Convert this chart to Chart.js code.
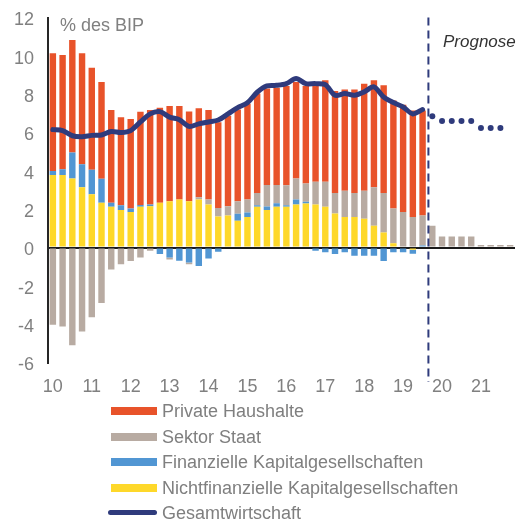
<!DOCTYPE html>
<html>
<head>
<meta charset="utf-8">
<script src="https://cdn.jsdelivr.net/npm/chart.js@4.4.1/dist/chart.umd.min.js"></script>
<style>
  body { margin: 0; background: #fff; }
  #wrap { position: relative; width: 519px; height: 524px; font-family: 'Liberation Sans', Arial, sans-serif; }
  canvas { position: absolute; left: 0; top: 0; }
  .note { position: absolute; white-space: nowrap; }
  .lg { position: absolute; left: 111px; height: 18px; font-size: 18px; line-height: 18px; color: #7f7f7f; white-space: nowrap; }
  .lg i { position: absolute; left: 0; top: 5px; width: 46px; height: 8px; }
  .lg i.ln { left: -3px; top: 6px; width: 49px; height: 5px; border-radius: 3px; }
  .lg span { position: absolute; left: 51px; top: 0; }
</style>
</head>
<body>
<div id="wrap">
  <canvas id="chart" width="519" height="524"></canvas>
  <div class="note" style="left:60px;top:16px;font-size:18px;line-height:18px;color:#808080">% des BIP</div>
  <div class="note" style="left:443px;top:33px;font-size:17px;line-height:17px;color:#333;font-style:italic">Prognose</div>
  <div id="legend"></div>
</div>
<script>
// quarters 2010 Q1 .. 2021 Q4
const years = ['10', '11', '12', '13', '14', '15', '16', '17', '18', '19', '20', '21'];
const quarters = years.flatMap(y => ['Q1', 'Q2', 'Q3', 'Q4'].map(q => y + ' ' + q));

const nonFinCorp = [3.78, 3.78, 3.6, 3.15, 2.78, 2.33, 2.12, 1.96, 1.85, 2.13,
  2.15, 2.33, 2.41, 2.5, 2.41, 2.5, 2.24, 1.62, 1.67, 1.39,
  1.59, 2.13, 1.96, 2.13, 2.13, 2.24, 2.3, 2.24, 2.13, 1.78,
  1.59, 1.59, 1.5, 1.13, 0.78, 0.22, 0, -0.12, 0,
  null, null, null, null, null, null, null, null, null];

const finCorp = [0.21, 0.3, 1.36, 1.2, 1.28, 1.26, 0.21, 0.24, 0.18, 0.09,
  0.09, -0.34, -0.52, -0.69, -0.78, -0.97, -0.57, -0.22, 0, 0.37,
  0.24, 0.07, 0.18, 0.18, 0.07, 0.26, 0.09, -0.17, -0.25, -0.34,
  -0.25, -0.43, -0.43, -0.43, -0.71, -0.25, -0.25, -0.2, 0.1,
  null, null, null, null, null, null, null, null, null];

const government = [-4.03, -4.12, -5.1, -4.38, -3.64, -2.9, -1.15, -0.88, -0.7, -0.52,
  -0.17, 0, -0.1, 0, -0.1, 0.12, 0.26, 0.44, 0.48, 0.65,
  0.67, 0.65, 1.12, 0.95, 1.05, 1.1, 0.95, 1.19, 1.3, 1.07,
  1.37, 1.26, 1.46, 2.02, 2.07, 1.81, 1.85, 1.59, 1.57,
  1.13, 0.57, 0.57, 0.57, 0.57, 0.13, 0.13, 0.13, 0.13];

const households = [6.14, 5.96, 5.87, 5.78, 5.32, 5.05, 4.85, 4.6, 4.68, 4.86,
  4.94, 4.96, 4.97, 4.88, 4.68, 4.65, 4.68, 4.48, 4.73, 4.79,
  5.0, 5.18, 5.04, 5.08, 5.18, 5.04, 5.09, 5.0, 5.3, 5.32,
  5.29, 5.4, 5.59, 5.58, 5.61, 5.64, 5.6, 5.56, 5.48,
  null, null, null, null, null, null, null, null, null];

const total = [6.15, 6.1, 5.83, 5.78, 5.85, 5.87, 6.05, 6.0, 6.1, 6.55,
  6.97, 7.09, 6.8, 6.67, 6.32, 6.45, 6.55, 6.65, 6.97, 7.3,
  7.55, 8.1, 8.43, 8.46, 8.55, 8.82, 8.55, 8.55, 8.5, 7.94,
  8.03, 7.94, 8.12, 8.38, 7.85, 7.56, 7.33, 6.97, 7.2,
  null, null, null, null, null, null, null, null, null];

const totalForecast = [null, null, null, null, null, null, null, null, null, null,
  null, null, null, null, null, null, null, null, null, null,
  null, null, null, null, null, null, null, null, null, null,
  null, null, null, null, null, null, null, null, null,
  6.85, 6.6, 6.6, 6.6, 6.6, 6.24, 6.24, 6.24, null];

const colors = {
  households: '#e8532a',
  government: '#b8aba2',
  finCorp: '#5196d3',
  nonFinCorp: '#fed82a',
  total: '#2f3b7c'
};

// legend (html)
const legendItems = [
  ['Private Haushalte', colors.households, false],
  ['Sektor Staat', colors.government, false],
  ['Finanzielle Kapitalgesellschaften', colors.finCorp, false],
  ['Nichtfinanzielle Kapitalgesellschaften', colors.nonFinCorp, false],
  ['Gesamtwirtschaft', colors.total, true]
];
const legendEl = document.getElementById('legend');
legendItems.forEach((it, i) => {
  const row = document.createElement('div');
  row.className = 'lg';
  row.style.top = (402 + i * 25.5) + 'px';
  row.innerHTML = '<i class="' + (it[2] ? 'ln' : '') + '" style="background:' + it[1] + '"></i><span>' + it[0] + '</span>';
  legendEl.appendChild(row);
});

// dashed forecast separator
const forecastLine = {
  id: 'forecastLine',
  afterDatasetsDraw(chart) {
    const x = chart.scales.x.getPixelForValue(38.6);
    const ctx = chart.ctx;
    ctx.save();
    ctx.strokeStyle = colors.total;
    ctx.lineWidth = 2;
    ctx.setLineDash([8, 5]);
    ctx.beginPath();
    ctx.moveTo(x, chart.chartArea.top);
    ctx.lineTo(x, 382);
    ctx.stroke();
    ctx.restore();
  }
};

Chart.defaults.font.family = "'Liberation Sans', Arial, sans-serif";
Chart.defaults.font.size = 18;
Chart.defaults.color = '#808080';

const bar = (label, data, color) => ({
  type: 'bar', label, data, backgroundColor: color, borderWidth: 0,
  stack: 'bars', order: 1, barPercentage: 0.66, categoryPercentage: 1
});

new Chart(document.getElementById('chart'), {
  data: {
    labels: quarters,
    datasets: [
      bar('Nichtfinanzielle Kapitalgesellschaften', nonFinCorp, colors.nonFinCorp),
      bar('Finanzielle Kapitalgesellschaften', finCorp, colors.finCorp),
      bar('Sektor Staat', government, colors.government),
      bar('Private Haushalte', households, colors.households),
      {
        type: 'line', label: 'Gesamtwirtschaft', data: total, stack: 'line1', order: 0,
        borderColor: colors.total, borderWidth: 5, tension: 0.3, pointRadius: 0,
        borderCapStyle: 'round', borderJoinStyle: 'round', spanGaps: false
      },
      {
        type: 'line', label: 'Prognose', data: totalForecast, stack: 'line2', order: 0,
        showLine: false, pointRadius: 3, pointBackgroundColor: colors.total,
        pointBorderWidth: 0
      }
    ]
  },
  options: {
    responsive: false,
    animation: false,
    devicePixelRatio: 1,
    layout: { padding: { top: 17.5, right: 2, left: 0, bottom: 0 } },
    plugins: { legend: { display: false }, tooltip: { enabled: false } },
    scales: {
      x: {
        stacked: true,
        grid: { display: true, drawOnChartArea: false, drawTicks: true, tickLength: 14, tickColor: 'rgba(0,0,0,0)' },
        border: { display: false },
        ticks: {
          autoSkip: false, maxRotation: 0, minRotation: 0, padding: 0,
          callback: (v, i) => (i % 4 === 0 ? years[i / 4] : '')
        },
        afterFit: s => { s.height = 161.5; }
      },
      y: {
        stacked: true,
        min: -6, max: 12,
        grid: {
          drawTicks: true, tickLength: 14, tickColor: 'rgba(0,0,0,0)',
          color: c => (c.tick && c.tick.value === 0 ? '#1a1a1a' : 'rgba(0,0,0,0)'),
          lineWidth: 2
        },
        border: { display: true, color: '#262626', width: 2 },
        ticks: { stepSize: 2, padding: 0, labelOffset: 3 },
        afterFit: s => { s.width = 48; }
      }
    }
  },
  plugins: [forecastLine]
});
</script>
</body>
</html>
